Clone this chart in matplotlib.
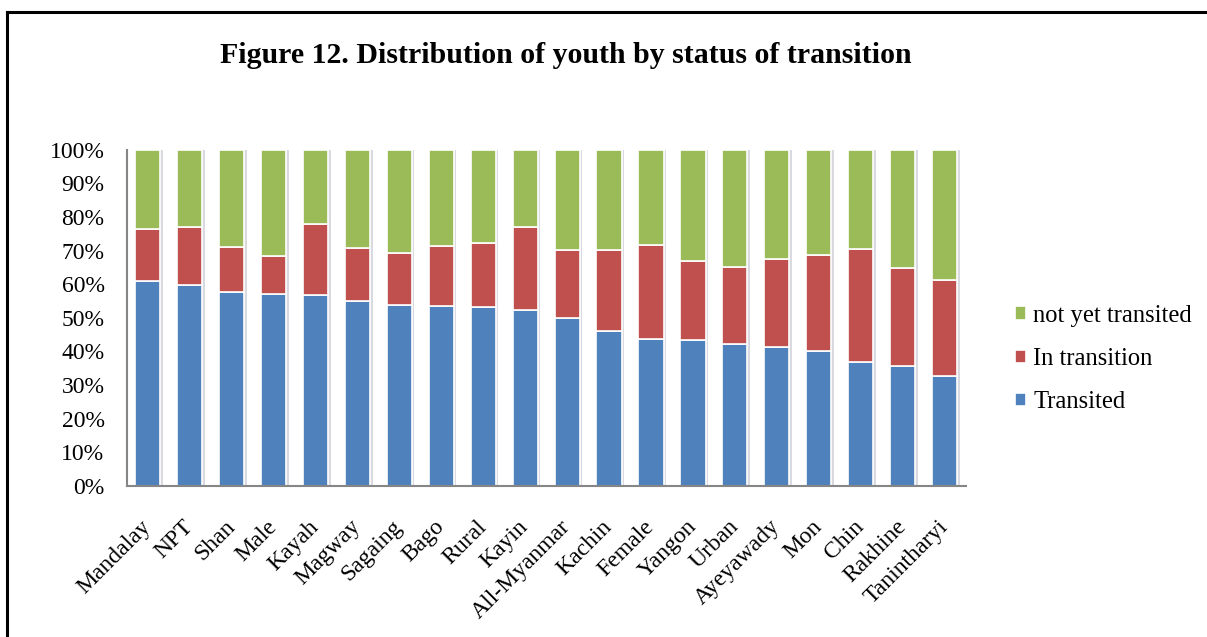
import matplotlib
matplotlib.use("Agg")
import matplotlib.pyplot as plt
from matplotlib.lines import Line2D
import numpy as np

plt.rcParams["font.family"] = ["Liberation Serif", "DejaVu Serif"]

categories = ["Mandalay", "NPT", "Shan", "Male", "Kayah", "Magway", "Sagaing",
              "Bago", "Rural", "Kayin", "All-Myanmar", "Kachin", "Female",
              "Yangon", "Urban", "Ayeyawady", "Mon", "Chin", "Rakhine",
              "Tanintharyi"]

# percent shares
transited = [61.0, 59.7, 57.6, 57.1, 56.9, 54.9, 53.9, 53.6, 53.2, 52.4,
             50.0, 46.1, 43.7, 43.3, 42.3, 41.2, 40.1, 36.9, 35.8, 32.8]
in_transition = [15.3, 17.2, 13.5, 11.2, 20.9, 16.0, 15.3, 17.7, 19.2, 24.5,
                 20.1, 24.0, 28.1, 23.6, 22.9, 26.4, 28.6, 33.7, 28.9, 28.4]
not_yet = [100 - a - b for a, b in zip(transited, in_transition)]

series_names = ["Transited", "In transition", "not yet transited"]
colors = ["#4F81BD", "#C0504D", "#9BBB59"]

fig = plt.figure(figsize=(12.07, 6.37), dpi=100)
ax = fig.add_axes([0.105, 0.237, 0.695, 0.528])

x = np.arange(len(categories))
bottom = np.zeros(len(categories))
handles = []
for vals, name, col in zip([transited, in_transition, not_yet], series_names, colors):
    # faint shadow behind each segment
    ax.bar(x + 0.06, vals, 0.6, bottom=bottom, color="#d9d9e0", zorder=1)
    h = ax.bar(x, vals, 0.6, bottom=bottom, color=col, edgecolor="white",
               linewidth=1.2, label=name, zorder=2)
    handles.append(h)
    bottom += np.array(vals)

ax.set_xlim(-0.5, len(categories) - 0.5)
ax.set_ylim(0, 100)
ax.set_yticks(np.arange(0, 101, 10))
ax.set_yticklabels([f"{v}%" for v in range(0, 101, 10)], fontsize=17)
ax.set_xticks(x)
ax.set_xticklabels(categories, rotation=45, ha="right", va="center",
                   rotation_mode="anchor", fontsize=17)
ax.tick_params(axis="y", length=0, pad=16)
ax.tick_params(axis="x", length=0, pad=27)
for side in ["top", "right"]:
    ax.spines[side].set_visible(False)
for side in ["left", "bottom"]:
    ax.spines[side].set_color("#868686")
    ax.spines[side].set_linewidth(1.5)

fig.legend(handles[::-1], series_names[::-1], loc="center left",
           bbox_to_anchor=(1015 / 1207, 1 - 359 / 637),
           bbox_transform=fig.transFigure, frameon=False, fontsize=17.7,
           borderpad=0, borderaxespad=0,
           handlelength=0.45, handleheight=0.45, handletextpad=0.3,
           labelspacing=0.86)

fig.text(0.469, 0.913, "Figure 12. Distribution of youth by status of transition",
         ha="center", va="center", fontsize=21.5, fontweight="bold")

# page frame (left and top edges)
fig.add_artist(Line2D([7 / 1207, 7 / 1207], [0, 1 - 12 / 637], color="black",
                      lw=2.2, transform=fig.transFigure))
fig.add_artist(Line2D([7 / 1207, 1], [1 - 12 / 637, 1 - 12 / 637], color="black",
                      lw=2.2, transform=fig.transFigure))

fig.savefig("out.png", dpi=100)
